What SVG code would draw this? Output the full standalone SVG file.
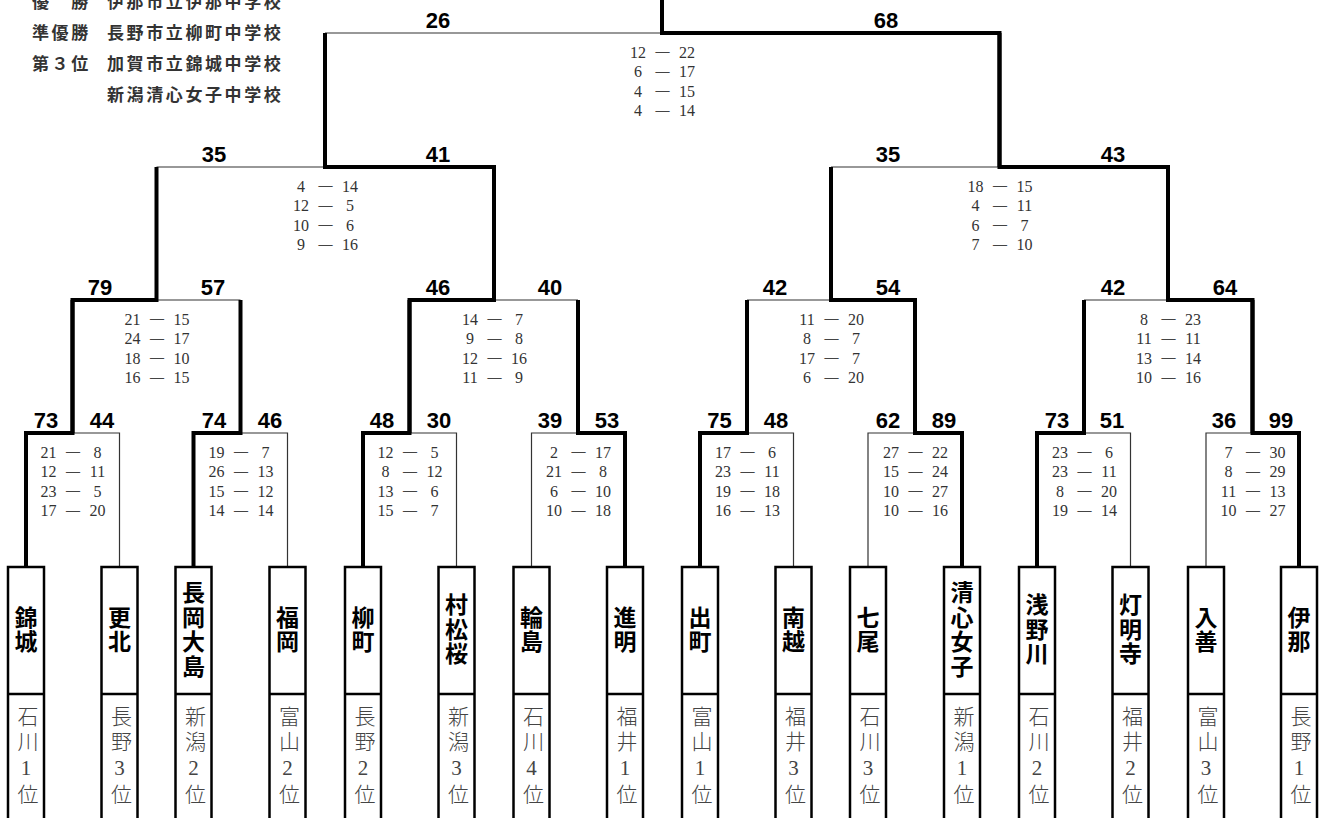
<svg xmlns="http://www.w3.org/2000/svg" width="1322" height="818" viewBox="0 0 1322 818">
<style>
.thick{stroke:#000;stroke-width:4;fill:none;stroke-linejoin:miter;stroke-linecap:butt}
.thin{stroke:#333;stroke-width:1.2;fill:none}
.box{fill:#fff;stroke:#000;stroke-width:2.5}
.div{stroke:#000;stroke-width:2.5}
.lbl{font-family:"Liberation Sans Narrow","Liberation Sans",Arial,sans-serif;font-size:22px;font-weight:bold;text-anchor:middle;fill:#000}
.sc{font-family:"Liberation Serif","Times New Roman",serif;font-size:16px;fill:#333;text-anchor:middle}
.ds{font-family:"Liberation Serif","Times New Roman",serif;font-size:14px;font-weight:bold;fill:#444;text-anchor:middle}
.nm{font-family:"Noto Sans CJK JP",sans-serif;font-size:23px;font-weight:bold;text-anchor:middle;fill:#000;writing-mode:vertical-rl;text-orientation:upright;letter-spacing:1.5px;dominant-baseline:central}
.pf{font-family:"Liberation Serif","Noto Sans CJK JP",serif;font-size:21px;font-weight:300;fill:#444;text-anchor:middle;writing-mode:vertical-rl;text-orientation:upright;letter-spacing:4px;dominant-baseline:central}
.lg{font-family:"Noto Sans CJK JP",sans-serif;font-size:17px;font-weight:bold;fill:#333;letter-spacing:2.6px}
</style>
<rect width="1322" height="818" fill="#fff"/>

<g id="legend">
<text class="lg" x="32" y="7.5">優　勝</text><text class="lg" x="107" y="7.5">伊那市立伊那中学校</text>
<text class="lg" x="32" y="38.5">準優勝</text><text class="lg" x="107" y="38.5">長野市立柳町中学校</text>
<text class="lg" x="32" y="69.5">第３位</text><text class="lg" x="107" y="69.5">加賀市立錦城中学校</text>
<text class="lg" x="107" y="100.5">新潟清心女子中学校</text>
</g>

<g id="connectors">
<g class="thin-lines">
<polyline class="thin" points="119.5,567 119.5,433 72.5,433"/>
<polyline class="thin" points="287.5,567 287.5,433 240.5,433"/>
<polyline class="thin" points="456.5,567 456.5,433 409.5,433"/>
<polyline class="thin" points="531.5,567 531.5,433 578,433"/>
<polyline class="thin" points="793.5,567 793.5,433 747,433"/>
<polyline class="thin" points="868,567 868,433 915,433"/>
<polyline class="thin" points="1130.5,567 1130.5,433 1084,433"/>
<polyline class="thin" points="1206,567 1206,433 1252.5,433"/>
<polyline class="thin" points="240.5,300 156.5,300"/>
<polyline class="thin" points="578,300 494,300"/>
<polyline class="thin" points="747,300 831,300"/>
<polyline class="thin" points="1084,300 1168,300"/>
<polyline class="thin" points="156.5,167 325,167"/>
<polyline class="thin" points="831,167 999.5,167"/>
<polyline class="thin" points="325,33 662,33"/>
</g>
<g class="thick-lines">
<polyline class="thick" points="26,567 26,433 72.5,433 72.5,300"/>
<polyline class="thick" points="193.5,567 193.5,433 240.5,433 240.5,300"/>
<polyline class="thick" points="363,567 363,433 409.5,433 409.5,300"/>
<polyline class="thick" points="625,567 625,433 578,433 578,300"/>
<polyline class="thick" points="700,567 700,433 747,433 747,300"/>
<polyline class="thick" points="962,567 962,433 915,433 915,300"/>
<polyline class="thick" points="1037,567 1037,433 1084,433 1084,300"/>
<polyline class="thick" points="1299,567 1299,433 1252.5,433 1252.5,300"/>
<polyline class="thick" points="72.5,433 72.5,300 156.5,300 156.5,167"/>
<polyline class="thick" points="409.5,433 409.5,300 494,300 494,167"/>
<polyline class="thick" points="915,433 915,300 831,300 831,167"/>
<polyline class="thick" points="1252.5,433 1252.5,300 1168,300 1168,167"/>
<polyline class="thick" points="494,300 494,167 325,167 325,33"/>
<polyline class="thick" points="1168,300 1168,167 999.5,167 999.5,33"/>
<polyline class="thick" points="999.5,167 999.5,33 662,33 662,0"/>
</g>
</g>

<g id="match-final">
<text class="lbl" x="438" y="28">26</text><text class="lbl" x="886" y="28">68</text>
<g transform="translate(662,57.5)">
<text class="sc" x="-24" y="0">12</text><text class="ds" x="0.5" y="-1.5">—</text><text class="sc" x="25" y="0">22</text>
<text class="sc" x="-24" y="19.6">6</text><text class="ds" x="0.5" y="18.1">—</text><text class="sc" x="25" y="19.6">17</text>
<text class="sc" x="-24" y="39.2">4</text><text class="ds" x="0.5" y="37.7">—</text><text class="sc" x="25" y="39.2">15</text>
<text class="sc" x="-24" y="58.8">4</text><text class="ds" x="0.5" y="57.3">—</text><text class="sc" x="25" y="58.8">14</text>
</g>
</g>

<g id="match-sf-1">
<text class="lbl" x="214" y="162">35</text><text class="lbl" x="438" y="162">41</text>
<g transform="translate(325,191.5)">
<text class="sc" x="-24" y="0">4</text><text class="ds" x="0.5" y="-1.5">—</text><text class="sc" x="25" y="0">14</text>
<text class="sc" x="-24" y="19.6">12</text><text class="ds" x="0.5" y="18.1">—</text><text class="sc" x="25" y="19.6">5</text>
<text class="sc" x="-24" y="39.2">10</text><text class="ds" x="0.5" y="37.7">—</text><text class="sc" x="25" y="39.2">6</text>
<text class="sc" x="-24" y="58.8">9</text><text class="ds" x="0.5" y="57.3">—</text><text class="sc" x="25" y="58.8">16</text>
</g>
</g>

<g id="match-sf-2">
<text class="lbl" x="888" y="162">35</text><text class="lbl" x="1113" y="162">43</text>
<g transform="translate(999.5,191.5)">
<text class="sc" x="-24" y="0">18</text><text class="ds" x="0.5" y="-1.5">—</text><text class="sc" x="25" y="0">15</text>
<text class="sc" x="-24" y="19.6">4</text><text class="ds" x="0.5" y="18.1">—</text><text class="sc" x="25" y="19.6">11</text>
<text class="sc" x="-24" y="39.2">6</text><text class="ds" x="0.5" y="37.7">—</text><text class="sc" x="25" y="39.2">7</text>
<text class="sc" x="-24" y="58.8">7</text><text class="ds" x="0.5" y="57.3">—</text><text class="sc" x="25" y="58.8">10</text>
</g>
</g>

<g id="match-qf-1">
<text class="lbl" x="100" y="295">79</text><text class="lbl" x="213" y="295">57</text>
<g transform="translate(156.5,324.5)">
<text class="sc" x="-24" y="0">21</text><text class="ds" x="0.5" y="-1.5">—</text><text class="sc" x="25" y="0">15</text>
<text class="sc" x="-24" y="19.6">24</text><text class="ds" x="0.5" y="18.1">—</text><text class="sc" x="25" y="19.6">17</text>
<text class="sc" x="-24" y="39.2">18</text><text class="ds" x="0.5" y="37.7">—</text><text class="sc" x="25" y="39.2">10</text>
<text class="sc" x="-24" y="58.8">16</text><text class="ds" x="0.5" y="57.3">—</text><text class="sc" x="25" y="58.8">15</text>
</g>
</g>

<g id="match-qf-2">
<text class="lbl" x="438" y="295">46</text><text class="lbl" x="550" y="295">40</text>
<g transform="translate(494,324.5)">
<text class="sc" x="-24" y="0">14</text><text class="ds" x="0.5" y="-1.5">—</text><text class="sc" x="25" y="0">7</text>
<text class="sc" x="-24" y="19.6">9</text><text class="ds" x="0.5" y="18.1">—</text><text class="sc" x="25" y="19.6">8</text>
<text class="sc" x="-24" y="39.2">12</text><text class="ds" x="0.5" y="37.7">—</text><text class="sc" x="25" y="39.2">16</text>
<text class="sc" x="-24" y="58.8">11</text><text class="ds" x="0.5" y="57.3">—</text><text class="sc" x="25" y="58.8">9</text>
</g>
</g>

<g id="match-qf-3">
<text class="lbl" x="775" y="295">42</text><text class="lbl" x="888" y="295">54</text>
<g transform="translate(831,324.5)">
<text class="sc" x="-24" y="0">11</text><text class="ds" x="0.5" y="-1.5">—</text><text class="sc" x="25" y="0">20</text>
<text class="sc" x="-24" y="19.6">8</text><text class="ds" x="0.5" y="18.1">—</text><text class="sc" x="25" y="19.6">7</text>
<text class="sc" x="-24" y="39.2">17</text><text class="ds" x="0.5" y="37.7">—</text><text class="sc" x="25" y="39.2">7</text>
<text class="sc" x="-24" y="58.8">6</text><text class="ds" x="0.5" y="57.3">—</text><text class="sc" x="25" y="58.8">20</text>
</g>
</g>

<g id="match-qf-4">
<text class="lbl" x="1113" y="295">42</text><text class="lbl" x="1225" y="295">64</text>
<g transform="translate(1168,324.5)">
<text class="sc" x="-24" y="0">8</text><text class="ds" x="0.5" y="-1.5">—</text><text class="sc" x="25" y="0">23</text>
<text class="sc" x="-24" y="19.6">11</text><text class="ds" x="0.5" y="18.1">—</text><text class="sc" x="25" y="19.6">11</text>
<text class="sc" x="-24" y="39.2">13</text><text class="ds" x="0.5" y="37.7">—</text><text class="sc" x="25" y="39.2">14</text>
<text class="sc" x="-24" y="58.8">10</text><text class="ds" x="0.5" y="57.3">—</text><text class="sc" x="25" y="58.8">16</text>
</g>
</g>

<g id="match-r1-1">
<text class="lbl" x="46" y="428">73</text><text class="lbl" x="102" y="428">44</text>
<g transform="translate(72.5,457.5)">
<text class="sc" x="-24" y="0">21</text><text class="ds" x="0.5" y="-1.5">—</text><text class="sc" x="25" y="0">8</text>
<text class="sc" x="-24" y="19.6">12</text><text class="ds" x="0.5" y="18.1">—</text><text class="sc" x="25" y="19.6">11</text>
<text class="sc" x="-24" y="39.2">23</text><text class="ds" x="0.5" y="37.7">—</text><text class="sc" x="25" y="39.2">5</text>
<text class="sc" x="-24" y="58.8">17</text><text class="ds" x="0.5" y="57.3">—</text><text class="sc" x="25" y="58.8">20</text>
</g>
</g>

<g id="match-r1-2">
<text class="lbl" x="214" y="428">74</text><text class="lbl" x="270" y="428">46</text>
<g transform="translate(240.5,457.5)">
<text class="sc" x="-24" y="0">19</text><text class="ds" x="0.5" y="-1.5">—</text><text class="sc" x="25" y="0">7</text>
<text class="sc" x="-24" y="19.6">26</text><text class="ds" x="0.5" y="18.1">—</text><text class="sc" x="25" y="19.6">13</text>
<text class="sc" x="-24" y="39.2">15</text><text class="ds" x="0.5" y="37.7">—</text><text class="sc" x="25" y="39.2">12</text>
<text class="sc" x="-24" y="58.8">14</text><text class="ds" x="0.5" y="57.3">—</text><text class="sc" x="25" y="58.8">14</text>
</g>
</g>

<g id="match-r1-3">
<text class="lbl" x="382" y="428">48</text><text class="lbl" x="439" y="428">30</text>
<g transform="translate(409.5,457.5)">
<text class="sc" x="-24" y="0">12</text><text class="ds" x="0.5" y="-1.5">—</text><text class="sc" x="25" y="0">5</text>
<text class="sc" x="-24" y="19.6">8</text><text class="ds" x="0.5" y="18.1">—</text><text class="sc" x="25" y="19.6">12</text>
<text class="sc" x="-24" y="39.2">13</text><text class="ds" x="0.5" y="37.7">—</text><text class="sc" x="25" y="39.2">6</text>
<text class="sc" x="-24" y="58.8">15</text><text class="ds" x="0.5" y="57.3">—</text><text class="sc" x="25" y="58.8">7</text>
</g>
</g>

<g id="match-r1-4">
<text class="lbl" x="550" y="428">39</text><text class="lbl" x="607" y="428">53</text>
<g transform="translate(578,457.5)">
<text class="sc" x="-24" y="0">2</text><text class="ds" x="0.5" y="-1.5">—</text><text class="sc" x="25" y="0">17</text>
<text class="sc" x="-24" y="19.6">21</text><text class="ds" x="0.5" y="18.1">—</text><text class="sc" x="25" y="19.6">8</text>
<text class="sc" x="-24" y="39.2">6</text><text class="ds" x="0.5" y="37.7">—</text><text class="sc" x="25" y="39.2">10</text>
<text class="sc" x="-24" y="58.8">10</text><text class="ds" x="0.5" y="57.3">—</text><text class="sc" x="25" y="58.8">18</text>
</g>
</g>

<g id="match-r1-5">
<text class="lbl" x="719.5" y="428">75</text><text class="lbl" x="776" y="428">48</text>
<g transform="translate(747,457.5)">
<text class="sc" x="-24" y="0">17</text><text class="ds" x="0.5" y="-1.5">—</text><text class="sc" x="25" y="0">6</text>
<text class="sc" x="-24" y="19.6">23</text><text class="ds" x="0.5" y="18.1">—</text><text class="sc" x="25" y="19.6">11</text>
<text class="sc" x="-24" y="39.2">19</text><text class="ds" x="0.5" y="37.7">—</text><text class="sc" x="25" y="39.2">18</text>
<text class="sc" x="-24" y="58.8">16</text><text class="ds" x="0.5" y="57.3">—</text><text class="sc" x="25" y="58.8">13</text>
</g>
</g>

<g id="match-r1-6">
<text class="lbl" x="888" y="428">62</text><text class="lbl" x="944" y="428">89</text>
<g transform="translate(915,457.5)">
<text class="sc" x="-24" y="0">27</text><text class="ds" x="0.5" y="-1.5">—</text><text class="sc" x="25" y="0">22</text>
<text class="sc" x="-24" y="19.6">15</text><text class="ds" x="0.5" y="18.1">—</text><text class="sc" x="25" y="19.6">24</text>
<text class="sc" x="-24" y="39.2">10</text><text class="ds" x="0.5" y="37.7">—</text><text class="sc" x="25" y="39.2">27</text>
<text class="sc" x="-24" y="58.8">10</text><text class="ds" x="0.5" y="57.3">—</text><text class="sc" x="25" y="58.8">16</text>
</g>
</g>

<g id="match-r1-7">
<text class="lbl" x="1057" y="428">73</text><text class="lbl" x="1112" y="428">51</text>
<g transform="translate(1084,457.5)">
<text class="sc" x="-24" y="0">23</text><text class="ds" x="0.5" y="-1.5">—</text><text class="sc" x="25" y="0">6</text>
<text class="sc" x="-24" y="19.6">23</text><text class="ds" x="0.5" y="18.1">—</text><text class="sc" x="25" y="19.6">11</text>
<text class="sc" x="-24" y="39.2">8</text><text class="ds" x="0.5" y="37.7">—</text><text class="sc" x="25" y="39.2">20</text>
<text class="sc" x="-24" y="58.8">19</text><text class="ds" x="0.5" y="57.3">—</text><text class="sc" x="25" y="58.8">14</text>
</g>
</g>

<g id="match-r1-8">
<text class="lbl" x="1224" y="428">36</text><text class="lbl" x="1281" y="428">99</text>
<g transform="translate(1252.5,457.5)">
<text class="sc" x="-24" y="0">7</text><text class="ds" x="0.5" y="-1.5">—</text><text class="sc" x="25" y="0">30</text>
<text class="sc" x="-24" y="19.6">8</text><text class="ds" x="0.5" y="18.1">—</text><text class="sc" x="25" y="19.6">29</text>
<text class="sc" x="-24" y="39.2">11</text><text class="ds" x="0.5" y="37.7">—</text><text class="sc" x="25" y="39.2">13</text>
<text class="sc" x="-24" y="58.8">10</text><text class="ds" x="0.5" y="57.3">—</text><text class="sc" x="25" y="58.8">27</text>
</g>
</g>

<g id="team-kinjo" transform="translate(26,0)"><rect class="box" x="-18" y="567" width="36" height="270"/><line class="div" x1="-18" y1="694" x2="18" y2="694"/>
<text class="nm" x="0" y="630">錦城</text><text class="pf" x="0" y="757.5">石川1位</text></g>

<g id="team-kohoku" transform="translate(119.5,0)"><rect class="box" x="-18" y="567" width="36" height="270"/><line class="div" x1="-18" y1="694" x2="18" y2="694"/>
<text class="nm" x="0" y="630">更北</text><text class="pf" x="0" y="757.5">長野3位</text></g>

<g id="team-nagaoka-oshima" transform="translate(193.5,0)"><rect class="box" x="-18" y="567" width="36" height="270"/><line class="div" x1="-18" y1="694" x2="18" y2="694"/>
<text class="nm" x="0" y="630">長岡大島</text><text class="pf" x="0" y="757.5">新潟2位</text></g>

<g id="team-fukuoka" transform="translate(287.5,0)"><rect class="box" x="-18" y="567" width="36" height="270"/><line class="div" x1="-18" y1="694" x2="18" y2="694"/>
<text class="nm" x="0" y="630">福岡</text><text class="pf" x="0" y="757.5">富山2位</text></g>

<g id="team-yanagimachi" transform="translate(363,0)"><rect class="box" x="-18" y="567" width="36" height="270"/><line class="div" x1="-18" y1="694" x2="18" y2="694"/>
<text class="nm" x="0" y="630">柳町</text><text class="pf" x="0" y="757.5">長野2位</text></g>

<g id="team-muramatsuzakura" transform="translate(456.5,0)"><rect class="box" x="-18" y="567" width="36" height="270"/><line class="div" x1="-18" y1="694" x2="18" y2="694"/>
<text class="nm" x="0" y="630">村松桜</text><text class="pf" x="0" y="757.5">新潟3位</text></g>

<g id="team-wajima" transform="translate(531.5,0)"><rect class="box" x="-18" y="567" width="36" height="270"/><line class="div" x1="-18" y1="694" x2="18" y2="694"/>
<text class="nm" x="0" y="630">輪島</text><text class="pf" x="0" y="757.5">石川4位</text></g>

<g id="team-shinmei" transform="translate(625,0)"><rect class="box" x="-18" y="567" width="36" height="270"/><line class="div" x1="-18" y1="694" x2="18" y2="694"/>
<text class="nm" x="0" y="630">進明</text><text class="pf" x="0" y="757.5">福井1位</text></g>

<g id="team-demachi" transform="translate(700,0)"><rect class="box" x="-18" y="567" width="36" height="270"/><line class="div" x1="-18" y1="694" x2="18" y2="694"/>
<text class="nm" x="0" y="630">出町</text><text class="pf" x="0" y="757.5">富山1位</text></g>

<g id="team-nanetsu" transform="translate(793.5,0)"><rect class="box" x="-18" y="567" width="36" height="270"/><line class="div" x1="-18" y1="694" x2="18" y2="694"/>
<text class="nm" x="0" y="630">南越</text><text class="pf" x="0" y="757.5">福井3位</text></g>

<g id="team-nanao" transform="translate(868,0)"><rect class="box" x="-18" y="567" width="36" height="270"/><line class="div" x1="-18" y1="694" x2="18" y2="694"/>
<text class="nm" x="0" y="630">七尾</text><text class="pf" x="0" y="757.5">石川3位</text></g>

<g id="team-seishin-joshi" transform="translate(962,0)"><rect class="box" x="-18" y="567" width="36" height="270"/><line class="div" x1="-18" y1="694" x2="18" y2="694"/>
<text class="nm" x="0" y="630">清心女子</text><text class="pf" x="0" y="757.5">新潟1位</text></g>

<g id="team-asanogawa" transform="translate(1037,0)"><rect class="box" x="-18" y="567" width="36" height="270"/><line class="div" x1="-18" y1="694" x2="18" y2="694"/>
<text class="nm" x="0" y="630">浅野川</text><text class="pf" x="0" y="757.5">石川2位</text></g>

<g id="team-tomyoji" transform="translate(1130.5,0)"><rect class="box" x="-18" y="567" width="36" height="270"/><line class="div" x1="-18" y1="694" x2="18" y2="694"/>
<text class="nm" x="0" y="630">灯明寺</text><text class="pf" x="0" y="757.5">福井2位</text></g>

<g id="team-nyuzen" transform="translate(1206,0)"><rect class="box" x="-18" y="567" width="36" height="270"/><line class="div" x1="-18" y1="694" x2="18" y2="694"/>
<text class="nm" x="0" y="630">入善</text><text class="pf" x="0" y="757.5">富山3位</text></g>

<g id="team-ina" transform="translate(1299,0)"><rect class="box" x="-18" y="567" width="36" height="270"/><line class="div" x1="-18" y1="694" x2="18" y2="694"/>
<text class="nm" x="0" y="630">伊那</text><text class="pf" x="0" y="757.5">長野1位</text></g>
</svg>
